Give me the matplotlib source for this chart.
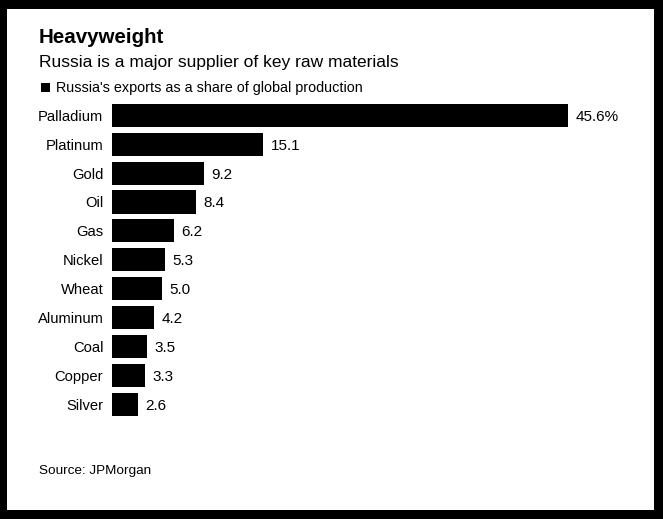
import matplotlib.pyplot as plt
from matplotlib.patches import Rectangle

plt.rcParams['font.family'] = ['Liberation Sans', 'DejaVu Sans']

materials = ["Palladium", "Platinum", "Gold", "Oil", "Gas", "Nickel",
             "Wheat", "Aluminum", "Coal", "Copper", "Silver"]
shares = [45.6, 15.1, 9.2, 8.4, 6.2, 5.3, 5.0, 4.2, 3.5, 3.3, 2.6]
value_labels = ["45.6%", "15.1", "9.2", "8.4", "6.2", "5.3",
                "5.0", "4.2", "3.5", "3.3", "2.6"]

W, H = 663, 519
fig = plt.figure(figsize=(W / 100, H / 100), dpi=100, facecolor="black")

# white card inside the black screenshot frame
fig.patches.append(Rectangle((7 / W, 1 - 510 / H), (654 - 7) / W, (510 - 9) / H,
                             transform=fig.transFigure, facecolor="white",
                             edgecolor="none", zorder=-5))


def px(x, y):
    return x / W, 1 - y / H


# axes placed so bars start at x=112px, 10px per percent
top, bottom = 100.9, 418.6
ax = fig.add_axes([111.7 / W, 1 - bottom / H, 500 / W, (bottom - top) / H])
ax.set_facecolor("none")
ax.set_zorder(2)
pos = list(range(len(materials)))
ax.barh(pos, shares, height=0.8, color="black")
ax.set_xlim(0, 50)
ax.set_ylim(len(materials) - 0.5, -0.5)
for i, v in enumerate(shares):
    ax.text(v + 0.8, i, value_labels[i], va="center_baseline", ha="left", fontsize=11)
ax.set_yticks(pos)
ax.set_yticklabels(materials, fontsize=10.6, va="center_baseline")
ax.tick_params(axis="y", length=0, pad=6)
ax.set_xticks([])
for s in ax.spines.values():
    s.set_visible(False)

fig.text(*px(39, 43), "Heavyweight", fontsize=14.8, fontweight="bold", va="baseline")
fig.text(*px(39, 66.7), "Russia is a major supplier of key raw materials",
         fontsize=12.5, va="baseline")
fig.patches.append(Rectangle(px(41, 92), 9 / W, 9 / H, transform=fig.transFigure,
                             facecolor="black", edgecolor="none"))
fig.text(*px(56, 92.3), "Russia's exports as a share of global production",
         fontsize=10.4, va="baseline")
fig.text(*px(39, 474), "Source: JPMorgan", fontsize=9.7, va="baseline")

fig.savefig("out.png", dpi=100, facecolor="black")
